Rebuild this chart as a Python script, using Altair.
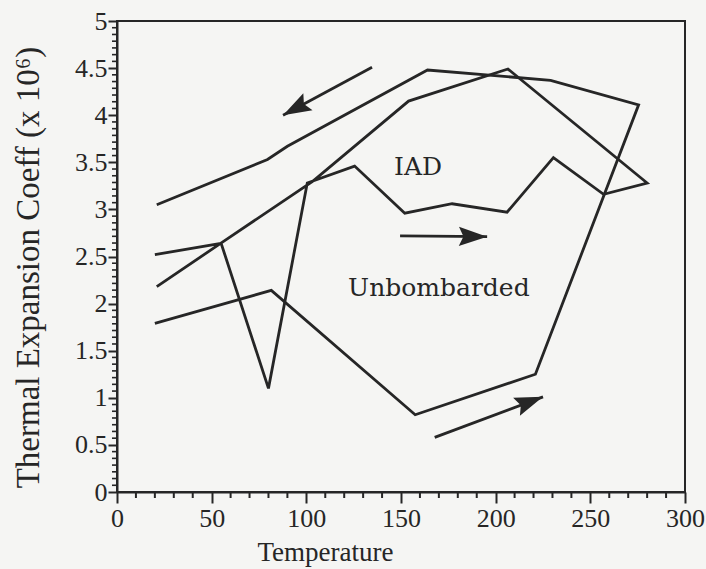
import math
import altair as alt
import pandas as pd

# ---- data ----
unb_temp = [20, 81.5, 157.5, 221, 275.5, 229, 164, 90, 79.5, 21]
unb_coef = [1.79, 2.14, 0.82, 1.25, 4.11, 4.37, 4.48, 3.67, 3.53, 3.05]

iad_temp = [20, 55, 80, 100.5, 125.5, 152, 177, 206, 230.5, 257, 280, 206.5, 154, 103.5, 55.5, 21]
iad_coef = [2.52, 2.64, 1.10, 3.28, 3.46, 2.96, 3.06, 2.97, 3.55, 3.16, 3.28, 4.49, 4.15, 3.30, 2.65, 2.18]

arrow_tail_t = [134.7, 149.5, 167.8]
arrow_tail_c = [4.51, 2.72, 0.58]
arrow_tip_t = [87.7, 195.5, 225.0]
arrow_tip_c = [4.00, 2.71, 1.01]

label_text = ["IAD", "Unbombarded"]
label_t = [159, 170]
label_c = [3.45, 2.17]

x_major = [0, 50, 100, 150, 200, 250, 300]
x_minor = [v for v in range(0, 301, 10) if v % 50 != 0]
y_major = [0, 0.5, 1, 1.5, 2, 2.5, 3, 3.5, 4, 4.5, 5]
y_minor = [round(i * 0.5 / 7, 4) for i in range(71) if i % 7 != 0]

W, H = 568, 471
INK = "#262626"
FONT = "Liberation Serif"

rows = []
for i, (t, c) in enumerate(zip(unb_temp, unb_coef)):
    rows.append({"series": "Unbombarded", "i": i, "t": t, "c": c})
for i, (t, c) in enumerate(zip(iad_temp, iad_coef)):
    rows.append({"series": "IAD", "i": i, "t": t, "c": c})
lines_df = pd.DataFrame(rows)

arrows = []
for a, b, c2, d in zip(arrow_tail_t, arrow_tail_c, arrow_tip_t, arrow_tip_c):
    dx = (c2 - a) * W / 300.0
    dy = -(d - b) * H / 5.0
    ang = math.degrees(math.atan2(dx, -dy)) % 360
    arrows.append({"t0": a, "c0": b, "t1": c2, "c1": d, "angle": ang})
arrows_df = pd.DataFrame(arrows)

labels_df = pd.DataFrame({"text": label_text, "t": label_t, "c": label_c})

xs = alt.Scale(domain=[0, 300], nice=False, zero=False)
ys = alt.Scale(domain=[0, 5], nice=False, zero=False)

x_axis = alt.Axis(values=x_major, tickSize=11, tickWidth=2, tickColor=INK,
                  domainColor=INK, domainWidth=2, grid=False,
                  labelFont=FONT, labelFontSize=26, labelColor=INK, labelPadding=2,
                  labelFlush=False, labelOverlap=False,
                  title="Temperature", titleFont=FONT, titleFontSize=27,
                  titleFontWeight="normal", titleColor=INK,
                  titleX=208, titleY=68, titleBaseline="alphabetic")
y_axis = alt.Axis(values=y_major, format="~g", tickSize=9, tickWidth=2, tickColor=INK,
                  domainColor=INK, domainWidth=2, grid=False,
                  labelFont=FONT, labelFontSize=26, labelColor=INK, labelPadding=1,
                  labelFlush=False, labelOverlap=False,
                  title="Thermal Expansion Coeff (x 10\u2076)", titleFont=FONT,
                  titleFontSize=33, titleFontWeight="normal", titleColor=INK,
                  titleX=-72, titleY=246, titleBaseline="bottom")

lines = alt.Chart(lines_df).mark_line(color=INK, strokeWidth=2.8, strokeJoin="miter").encode(
    x=alt.X("t:Q", scale=xs, axis=x_axis),
    y=alt.Y("c:Q", scale=ys, axis=y_axis),
    detail="series:N",
    order="i:Q",
)

shafts = alt.Chart(arrows_df).mark_rule(color=INK, strokeWidth=2.8).encode(
    x=alt.X("t0:Q", scale=xs), y=alt.Y("c0:Q", scale=ys),
    x2="t1:Q", y2="c1:Q",
)

heads = alt.Chart(arrows_df).mark_point(
    shape="M0,0L0.36,1.05L0,0.88L-0.36,1.05Z", filled=True, opacity=1,
    color=INK, size=2900, strokeWidth=0,
).encode(
    x=alt.X("t1:Q", scale=xs), y=alt.Y("c1:Q", scale=ys),
    angle=alt.Angle("angle:Q", scale=None),
)

texts = alt.Chart(labels_df).mark_text(font="DejaVu Serif", fontSize=25, color=INK).encode(
    x=alt.X("t:Q", scale=xs), y=alt.Y("c:Q", scale=ys), text="text:N",
)

yminor = alt.Chart(pd.DataFrame({"v": y_minor})).mark_rule(color=INK, strokeWidth=1.6).encode(
    y=alt.Y("v:Q", scale=ys), x=alt.value(-5), x2=alt.value(0),
)
xminor = alt.Chart(pd.DataFrame({"v": x_minor})).mark_rule(color=INK, strokeWidth=2).encode(
    x=alt.X("v:Q", scale=xs), y=alt.value(H), y2=alt.value(H + 6),
)

chart = alt.layer(lines, shafts, heads, texts, yminor, xminor).properties(
    width=W, height=H,
    autosize=alt.AutoSizeParams(type="none"),
    padding={"left": 117, "top": 21, "right": 21, "bottom": 77},
    background="#f5f5f3",
).configure_view(stroke=INK, strokeWidth=2)

chart.save("out.html", embed_options={"renderer": "svg", "actions": False})
